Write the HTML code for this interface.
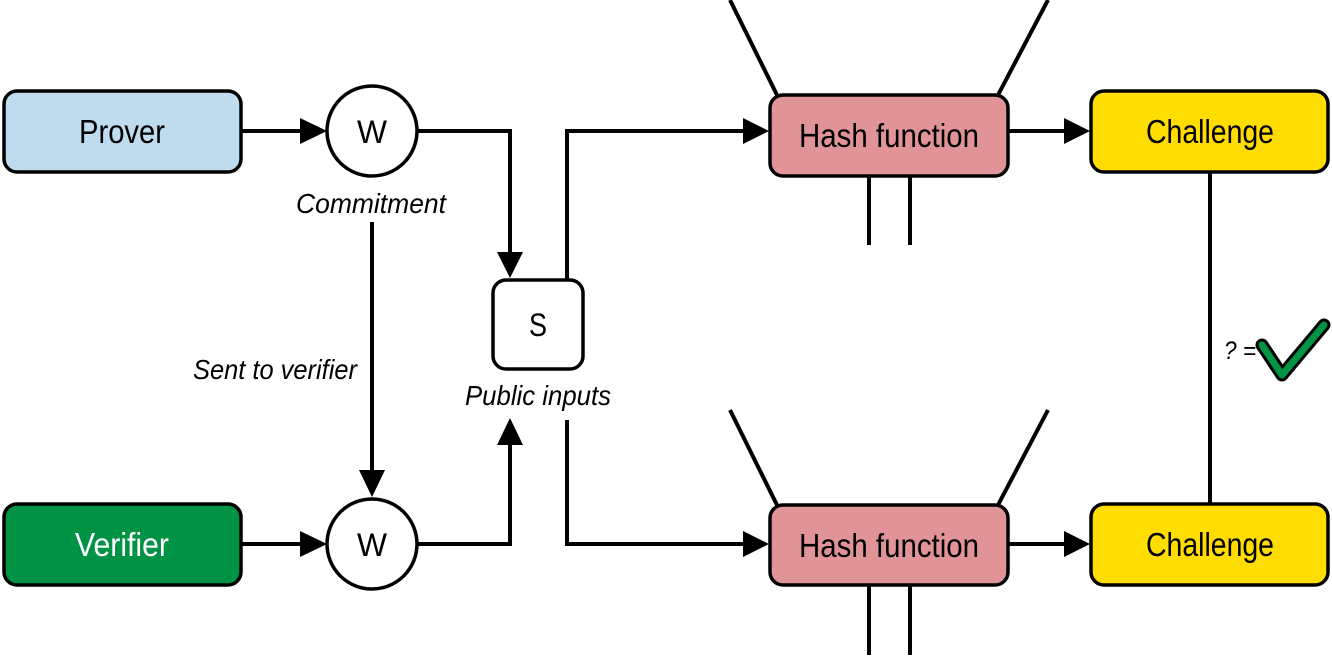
<!DOCTYPE html>
<html><head><style>
body{margin:0;background:#fff;}
svg text{font-family:"Liberation Sans Narrow","Liberation Sans",sans-serif;}
</style></head><body>
<svg width="1332" height="655" viewBox="0 0 1332 655" xmlns="http://www.w3.org/2000/svg">
<g stroke="#000" stroke-width="4" fill="none">
<line x1="241" y1="131" x2="302" y2="131"/>
<polyline points="417,131 510,131 510,255"/>
<polyline points="567,280 567,131 745,131"/>
<line x1="1008" y1="131" x2="1066" y2="131"/>
<line x1="777" y1="95" x2="730" y2="0"/>
<line x1="998" y1="95" x2="1048" y2="0"/>
<line x1="869" y1="176" x2="869" y2="245"/>
<line x1="910" y1="176" x2="910" y2="245"/>
<line x1="1210" y1="172" x2="1210" y2="503"/>
<line x1="372" y1="222" x2="372" y2="472"/>
<line x1="241" y1="544" x2="302" y2="544"/>
<polyline points="417,544 510,544 510,444"/>
<polyline points="567,420 567,544 745,544"/>
<line x1="1008" y1="544" x2="1066" y2="544"/>
<line x1="777" y1="505" x2="730" y2="410"/>
<line x1="998" y1="505" x2="1048" y2="410"/>
<line x1="869" y1="585" x2="869" y2="655"/>
<line x1="910" y1="585" x2="910" y2="655"/>
</g>
<g fill="#000">
<polygon points="300,118 327,131 300,144"/>
<polygon points="497,252 523,252 510,278"/>
<polygon points="743,118 769,131 743,144"/>
<polygon points="1064,118 1090,131 1064,144"/>
<polygon points="359,470 385,470 372,497"/>
<polygon points="300,531 327,544 300,557"/>
<polygon points="497,445 523,445 510,418"/>
<polygon points="743,531 769,544 743,557"/>
<polygon points="1064,531 1090,544 1064,557"/>
</g>
<g stroke="#000" stroke-width="3.5">
<rect x="4" y="91" width="237" height="81" rx="13" fill="#bfdcee"/>
<rect x="4" y="504" width="237" height="81" rx="13" fill="#009245"/>
<circle cx="372" cy="131" r="45" fill="#fff"/>
<circle cx="372" cy="544" r="45" fill="#fff"/>
<rect x="493" y="280" width="90" height="89" rx="13" fill="#fff"/>
<rect x="770" y="95" width="238" height="81" rx="13" fill="#e09497"/>
<rect x="770" y="505" width="238" height="80" rx="13" fill="#e09497"/>
<rect x="1091" y="91" width="237" height="81" rx="13" fill="#ffdd00"/>
<rect x="1091" y="504" width="237" height="81" rx="13" fill="#ffdd00"/>
</g>
<path d="M1262,345 L1282,375 L1324,325" stroke="#000" stroke-width="13" fill="none" stroke-linecap="round" stroke-linejoin="round"/>
<path d="M1262,345 L1282,375 L1324,325" stroke="#009245" stroke-width="7" fill="none" stroke-linecap="round" stroke-linejoin="round"/>
<g font-size="33" text-anchor="middle" fill="#000">
<text x="122" y="143" textLength="86" lengthAdjust="spacingAndGlyphs">Prover</text>
<text x="122" y="556" fill="#fff" textLength="94" lengthAdjust="spacingAndGlyphs">Verifier</text>
<text x="372" y="143" font-size="32" textLength="30" lengthAdjust="spacingAndGlyphs">W</text>
<text x="372" y="556" font-size="32" textLength="30" lengthAdjust="spacingAndGlyphs">W</text>
<text x="538" y="336" font-size="32" textLength="18" lengthAdjust="spacingAndGlyphs">S</text>
<text x="889" y="147" textLength="180" lengthAdjust="spacingAndGlyphs">Hash function</text>
<text x="889" y="557" textLength="180" lengthAdjust="spacingAndGlyphs">Hash function</text>
<text x="1210" y="143" textLength="128" lengthAdjust="spacingAndGlyphs">Challenge</text>
<text x="1210" y="556" textLength="128" lengthAdjust="spacingAndGlyphs">Challenge</text>
</g>
<g font-size="28" font-style="italic" text-anchor="middle" fill="#000">
<text x="371" y="213" textLength="150" lengthAdjust="spacingAndGlyphs">Commitment</text>
<text x="275" y="379" textLength="164" lengthAdjust="spacingAndGlyphs">Sent to verifier</text>
<text x="538" y="405" textLength="146" lengthAdjust="spacingAndGlyphs">Public inputs</text>
<text x="1240" y="359" font-size="25" textLength="32" lengthAdjust="spacingAndGlyphs">? =</text>
</g>
</svg>
</body></html>
